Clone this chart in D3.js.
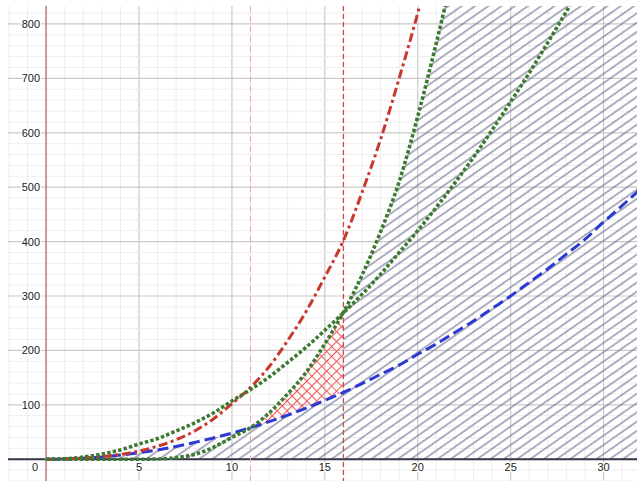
<!DOCTYPE html>
<html>
<head>
<meta charset="utf-8">
<script src="https://cdn.jsdelivr.net/npm/d3@7"></script>
<style>
  body { margin: 0; background: #fff; }
  svg { display: block; }
  .lbl { font-family: "Liberation Sans", Arial, sans-serif; font-size: 11px; fill: #222;
         paint-order: stroke; stroke: #fff; stroke-width: 3px; stroke-linejoin: round; }
</style>
</head>
<body>
<div id="chart"></div>
<script>
// values, one value per integer x starting at 0
const redValues    = [0, 0.5, 2, 4.5, 9, 15, 24, 36, 52, 74, 102, 132, 170, 218, 272, 335, 402, 490, 588, 700, 820, 950];
const greenAValues = [0, 1, 4, 9.5, 17, 28, 38, 52, 67, 85, 107, 128, 151, 178, 206, 237, 269, 303, 340, 380, 420, 463, 508, 555, 605, 657, 710, 766, 823, 883];
const greenBValues = [0, 0, 0, 0, 0, 0, 0.5, 3, 9, 22, 40, 58, 85, 120, 160, 212, 270, 338, 418, 510, 630, 765, 910];
const blueValues   = [0, 0.5, 2, 4.3, 7.7, 12, 17, 23.5, 31, 39, 48, 58, 69, 81, 94, 108, 123, 139, 156, 173, 193, 212, 233, 254, 277, 300, 325, 350, 377, 404, 436, 466, 497];
const xTickLabels  = [5, 10, 15, 20, 25, 30];
const yTickLabels  = [100, 200, 300, 400, 500, 600, 700, 800];
const xMarks       = [0, 11, 16];   // vertical reference lines
const shadeFrom    = 11, shadeTo = 16;

const WIDTH = 637, HEIGHT = 483;
const X0 = 8, Y0 = 6, X1 = 637, Y1 = 481;

const x = d3.scaleLinear().domain([-2.05, 31.8]).range([X0, X1]);
const y = d3.scaleLinear().domain([-40, 833]).range([Y1, Y0]);

const pts = arr => arr.map((v, i) => [i, v]);
const red = pts(redValues), greenA = pts(greenAValues), greenB = pts(greenBValues), blue = pts(blueValues);

const svg = d3.select("#chart").append("svg").attr("width", WIDTH).attr("height", HEIGHT);
const defs = svg.append("defs");
defs.append("clipPath").attr("id", "plot").append("rect")
    .attr("x", X0).attr("y", Y0).attr("width", X1 - X0).attr("height", Y1 - Y0);

// hatch patterns
const grayHatch = defs.append("pattern").attr("id", "grayHatch").attr("patternUnits", "userSpaceOnUse")
    .attr("width", 10).attr("height", 7.6).attr("patternTransform", "rotate(-35)");
grayHatch.append("line").attr("x1", 0).attr("y1", 3.8).attr("x2", 10).attr("y2", 3.8)
    .attr("stroke", "#6f6f92").attr("stroke-width", 1.1);

const redHatch = defs.append("pattern").attr("id", "redHatch").attr("patternUnits", "userSpaceOnUse")
    .attr("width", 7).attr("height", 7).attr("patternTransform", "rotate(45)");
redHatch.append("line").attr("x1", 0).attr("y1", 3.5).attr("x2", 7).attr("y2", 3.5)
    .attr("stroke", "#f25a5a").attr("stroke-width", 1);
redHatch.append("line").attr("x1", 3.5).attr("y1", 0).attr("x2", 3.5).attr("y2", 7)
    .attr("stroke", "#f25a5a").attr("stroke-width", 1);

const g = svg.append("g").attr("clip-path", "url(#plot)");

// grid
const xMinor = d3.range(-2, 32), yMinor = d3.range(-40, 840, 20);
g.selectAll(".vminor").data(xMinor).enter().append("line")
    .attr("x1", d => x(d)).attr("x2", d => x(d)).attr("y1", Y0).attr("y2", Y1)
    .attr("stroke", d => d % 5 === 0 ? "#c9c9c9" : "#eeeeee").attr("stroke-width", d => d % 5 === 0 ? 1.2 : 1);
g.selectAll(".hminor").data(yMinor).enter().append("line")
    .attr("x1", X0).attr("x2", X1).attr("y1", d => y(d)).attr("y2", d => y(d))
    .attr("stroke", d => d % 100 === 0 ? "#c9c9c9" : "#eeeeee").attr("stroke-width", d => d % 100 === 0 ? 1.2 : 1);

// gray hatched region: under blue up to x=16, then right of green B
const area = d3.area().x(d => x(d[0])).y0(y(0)).y1(d => y(d[1])).curve(d3.curveMonotoneX);
g.append("path").datum(blue.filter(d => d[0] <= shadeTo))
    .attr("d", area).attr("fill", "url(#grayHatch)");
const rightPart = greenB.filter(d => d[0] >= shadeTo).concat([[x.domain()[1], y.domain()[1] + 200]]);
g.append("path").datum(rightPart)
    .attr("d", area).attr("fill", "url(#grayHatch)");

// red cross-hatched region between blue and green B
const band = d3.range(shadeFrom, shadeTo + 1).map(i => [i, blueValues[i], greenBValues[i]]);
g.append("path").datum(band)
    .attr("d", d3.area().x(d => x(d[0])).y0(d => y(d[1])).y1(d => y(d[2])).curve(d3.curveMonotoneX))
    .attr("fill", "url(#redHatch)");

// x axis
g.append("line").attr("x1", X0).attr("x2", X1).attr("y1", y(0)).attr("y2", y(0))
    .attr("stroke", "#35364a").attr("stroke-width", 2);

// vertical reference lines
const vStyle = {0: ["#c98080", null, 1.5], 11: ["#f3a3a3", "6,4", 1], 16: ["#d94848", "5,3", 1.3]};
g.selectAll(".vref").data(xMarks).enter().append("line")
    .attr("x1", d => x(d)).attr("x2", d => x(d)).attr("y1", Y0).attr("y2", Y1)
    .attr("stroke", d => vStyle[d][0]).attr("stroke-dasharray", d => vStyle[d][1])
    .attr("stroke-width", d => vStyle[d][2]);

// curves
const line = d3.line().x(d => x(d[0])).y(d => y(d[1])).curve(d3.curveMonotoneX);
const curves = [
    {data: blue,   color: "#2a3ad2", dash: "11,5",        w: 3},
    {data: red,    color: "#c9382d", dash: "9,3.5,3,3.5", w: 3},
    {data: greenA, color: "#3b7b30", dash: "3.4,2.2",     w: 3.6},
    {data: greenB, color: "#3b7b30", dash: "3.4,2.2",     w: 3.6}
];
g.selectAll(".curve").data(curves).enter().append("path")
    .attr("d", d => line(d.data)).attr("fill", "none")
    .attr("stroke", d => d.color).attr("stroke-width", d => d.w)
    .attr("stroke-dasharray", d => d.dash);

// tick labels
svg.selectAll(".xl").data(xTickLabels).enter().append("text").attr("class", "lbl")
    .attr("x", d => x(d)).attr("y", y(0) + 12).attr("text-anchor", "middle").text(d => d);
svg.append("text").attr("class", "lbl").attr("x", x(0) - 11).attr("y", y(0) + 12)
    .attr("text-anchor", "middle").text("0");
svg.selectAll(".yl").data(yTickLabels).enter().append("text").attr("class", "lbl")
    .attr("x", x(0) - 6).attr("y", d => y(d) + 4).attr("text-anchor", "end").text(d => d);
</script>
</body>
</html>
